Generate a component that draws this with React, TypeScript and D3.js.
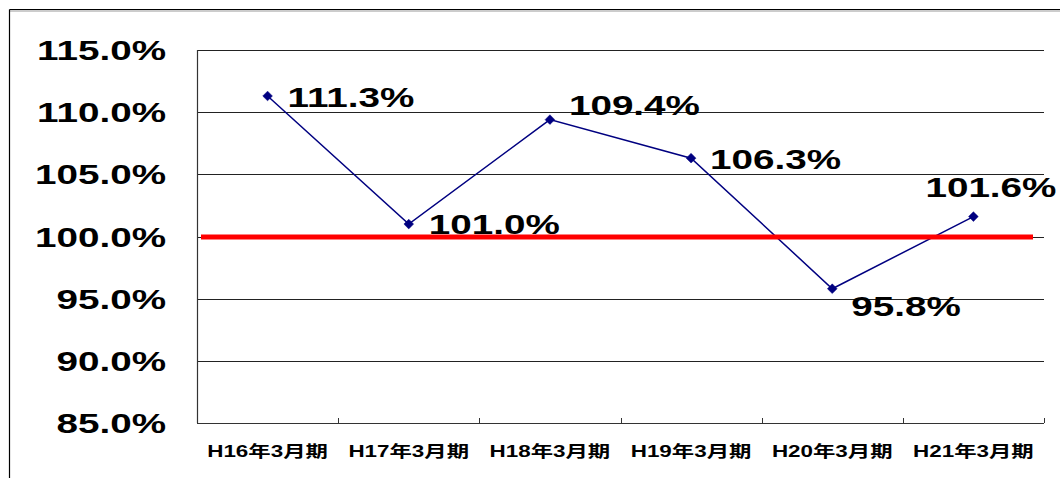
import React from "react";
import * as d3 from "d3";

const categories = ["H16年3月期", "H17年3月期", "H18年3月期", "H19年3月期", "H20年3月期", "H21年3月期"];
const values = [111.3, 101.0, 109.4, 106.3, 95.8, 101.6];
const yTicks = [85, 90, 95, 100, 105, 110, 115];
const referenceValue = 100;
// label placement offsets relative to each point [dx, dy]
const labelOffsets: [number, number][] = [[20, 1], [20, 0], [19, -15], [19, 1], [19, 17], [-48, -30]];

const W = 1060, H = 478;
const M = { left: 197, right: 1044, top: 50, bottom: 423 };
const SX = 1.38;
const FONT = "'Liberation Sans', Arial, 'Noto Sans CJK JP', sans-serif";

export default function App() {
  const x = d3.scaleBand<string>().domain(categories).range([M.left, M.right]).padding(0);
  const y = d3.scaleLinear().domain([85, 115]).range([M.bottom, M.top]);
  const cx = (i: number) => (x(categories[i]) as number) + x.bandwidth() / 2;
  const line = d3.line<number>().x((_, i) => cx(i)).y((d) => y(d));
  const boundaries = categories.map((c) => (x(c) as number) + x.bandwidth());

  return (
    <svg width={W} height={H} style={{ position: "fixed", left: 0, top: 0, background: "#fff" }} fontFamily={FONT}>
      <rect x={0} y={0} width={W} height={H} fill="#fff" />
      {/* outer chart border */}
      <line x1={9.5} y1={11} x2={W} y2={11} stroke="#999" strokeWidth={1} />
      <line x1={9.5} y1={9.5} x2={W} y2={9.5} stroke="#000" strokeWidth={1.2} />
      <line x1={9.5} y1={9.5} x2={9.5} y2={H} stroke="#000" strokeWidth={1.2} />
      {/* gridlines */}
      {yTicks.filter((t) => t !== 85).map((t) => (
        <line key={t} x1={M.left} x2={M.right} y1={Math.round(y(t)) + 0.5} y2={Math.round(y(t)) + 0.5} stroke="#222" strokeWidth={1} />
      ))}
      {/* axes */}
      <line x1={M.left + 0.5} x2={M.left + 0.5} y1={M.top} y2={M.bottom} stroke="#333" strokeWidth={1.2} />
      <line x1={M.left} x2={M.right} y1={M.bottom + 0.5} y2={M.bottom + 0.5} stroke="#333" strokeWidth={1.2} />
      {boundaries.map((b, i) => (
        <line key={i} x1={Math.round(b) + 0.5} x2={Math.round(b) + 0.5} y1={M.bottom - 5} y2={M.bottom} stroke="#333" strokeWidth={1} />
      ))}
      {/* y tick labels */}
      {yTicks.map((t) => (
        <text key={t} transform={`translate(166,${y(t) + 10}) scale(${SX},1)`} textAnchor="end" fontSize={28} fontWeight="bold" fill="#000">
          {t.toFixed(1) + "%"}
        </text>
      ))}
      {/* x labels */}
      {categories.map((c, i) => (
        <text key={c} transform={`translate(${cx(i)},457) scale(1.4,1)`} textAnchor="middle" fontSize={16} fontWeight="bold" fill="#000">
          {c}
        </text>
      ))}
      {/* series */}
      <path d={line(values) || ""} fill="none" stroke="#000080" strokeWidth={1.5} />
      {values.map((v, i) => (
        <path key={i} d={d3.symbol(d3.symbolDiamond2, 60)() || ""} transform={`translate(${cx(i)},${y(v)})`} fill="#000080" stroke="#000080" strokeWidth={0.5} />
      ))}
      {/* data labels */}
      {values.map((v, i) => (
        <text key={i} transform={`translate(${cx(i) + labelOffsets[i][0]},${y(v) + labelOffsets[i][1] + 10}) scale(${SX},1)`} fontSize={28} fontWeight="bold" fill="#000">
          {v.toFixed(1) + "%"}
        </text>
      ))}
      {/* reference line drawn on top */}
      <line x1={M.left + 4} x2={1033} y1={y(referenceValue) + 0.5} y2={y(referenceValue) + 0.5} stroke="#ff0000" strokeWidth={5} />
    </svg>
  );
}
